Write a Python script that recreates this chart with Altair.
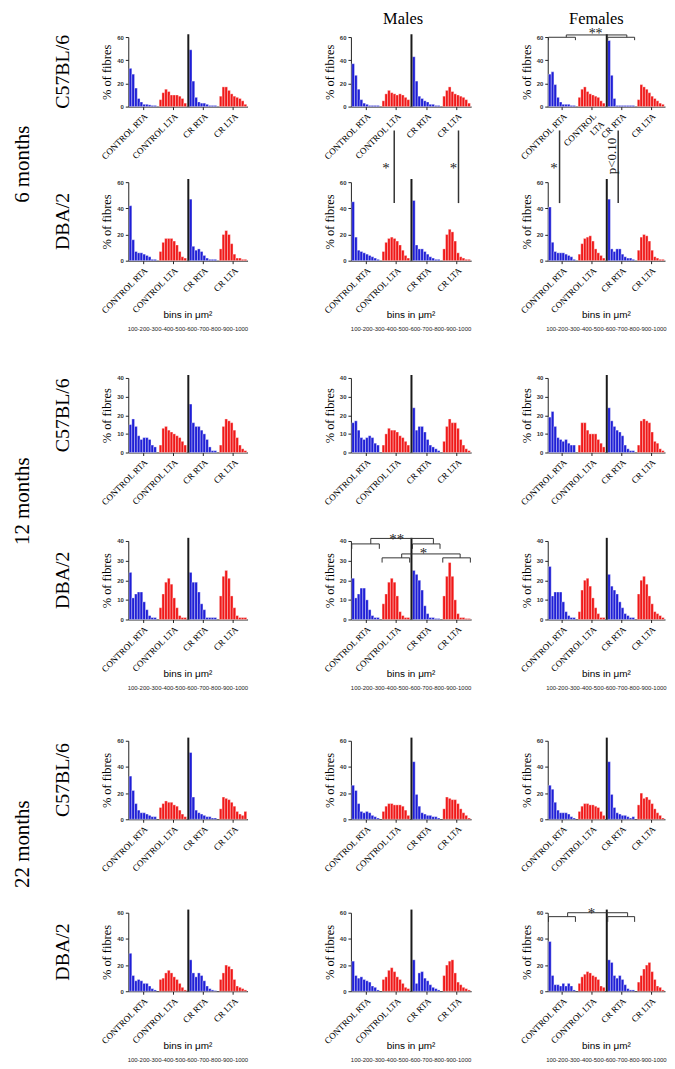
import altair as alt
import pandas as pd

# ---------------- text content ----------------
GROUPS = ["CONTROL RTA", "CONTROL LTA", "CR RTA", "CR LTA"]
SIDES = ["RTA", "LTA", "RTA", "LTA"]
BINS = [100, 200, 300, 400, 500, 600, 700, 800, 900, 1000]
BIN_RANGE = "100-200-300-400-500-600-700-800-900-1000"
BIN_TITLE = "bins in \u03bcm\u00b2"
COLUMN_TITLES = ["", "Males", "Females"]
AGES = ["6 months", "12 months", "22 months"]
STRAINS = ["C57BL/6", "DBA/2"]
Y_TITLE = "% of fibres"

# ---------------- data: % of fibres per bin (groups: CONTROL RTA, CONTROL LTA, CR RTA, CR LTA) -------------
m6_c57_all = [[33, 28, 16, 7, 4, 2, 2, 1.5, 1, 1], [6, 12, 15, 13, 10, 10, 10, 9, 7, 3],
              [49, 22, 8, 4, 3, 3, 2, 1, 1, 1], [9, 17, 17, 14, 11, 9, 8, 7, 5, 2]]
m6_c57_male = [[37, 27, 15, 6, 3, 2, 1, 1, 1, 1], [5, 11, 14, 12, 11, 10, 11, 10, 8, 6],
               [43, 22, 9, 7, 5, 4, 2, 2, 1, 1], [9, 14, 17, 13, 11, 10, 9, 8, 6, 3]]
m6_c57_female = [[28, 30, 19, 8, 4, 2, 2, 2, 1, 1], [8, 15, 17, 13, 11, 10, 9, 8, 5, 3],
                 [57, 27, 7, 1, 1, 1, 1, 1, 1, 1], [6, 19, 17, 15, 12, 9, 7, 5, 3, 2]]

m6_dba_all = [[42, 16, 7, 6, 6, 5, 4, 3, 1, 1], [7, 14, 17, 17, 17, 15, 12, 7, 3, 2],
              [47, 11, 8, 9, 7, 4, 2, 1, 1, 1], [9, 20, 23, 20, 13, 5, 2, 2, 1, 1]]
m6_dba_male = [[45, 18, 8, 7, 6, 5, 4, 3, 2, 1], [7, 14, 17, 18, 17, 15, 12, 8, 4, 2],
               [46, 12, 9, 9, 7, 5, 3, 2, 1, 1], [9, 20, 24, 22, 15, 6, 3, 2, 1, 1]]
m6_dba_female = [[41, 14, 7, 6, 6, 6, 5, 4, 3, 1], [5, 13, 17, 18, 19, 15, 9, 6, 4, 2],
                 [47, 9, 7, 9, 9, 5, 3, 2, 2, 1], [8, 18, 20, 19, 15, 8, 3, 2, 1, 1]]

m12_c57_all = [[15, 18, 14, 9, 7, 8, 8, 7, 4, 3], [4, 13, 14, 12, 11, 10, 9, 8, 6, 4],
               [26, 16, 14, 14, 12, 10, 7, 3, 1, 1], [4, 14, 18, 17, 16, 12, 8, 4, 2, 1]]
m12_c57_male = [[16, 17, 12, 8, 7, 8, 9, 8, 5, 4], [4, 10, 13, 12, 12, 11, 9, 8, 6, 4],
                [24, 12, 14, 14, 11, 7, 4, 3, 2, 1], [6, 14, 18, 16, 16, 13, 7, 4, 2, 1]]
m12_c57_female = [[19, 22, 14, 8, 7, 6, 7, 5, 4, 4], [4, 16, 16, 12, 10, 10, 10, 7, 5, 3],
                  [24, 17, 14, 12, 11, 9, 4, 2, 1, 1], [4, 17, 18, 17, 16, 11, 6, 5, 2, 1]]

m12_dba_all = [[24, 11, 13, 14, 14, 9, 5, 2, 1, 1], [6, 13, 19, 21, 18, 11, 6, 2, 1, 1],
               [24, 19, 19, 14, 8, 5, 1, 1, 1, 1], [12, 22, 25, 21, 12, 6, 2, 1, 1, 1]]
m12_dba_male = [[21, 11, 13, 16, 16, 10, 5, 2, 1, 1], [8, 13, 19, 21, 19, 12, 4, 2, 1, 1],
                [25, 23, 20, 15, 7, 3, 1, 1, 0.5, 0.5], [12, 22, 29, 22, 10, 3, 1, 1, 0.5, 0.5]]
m12_dba_female = [[27, 12, 14, 14, 14, 9, 4, 2, 1, 1], [4, 15, 20, 21, 17, 11, 6, 3, 1, 1],
                  [23, 17, 15, 13, 9, 6, 3, 2, 1, 1], [13, 20, 22, 18, 12, 8, 4, 3, 2, 1]]

m22_c57_all = [[33, 22, 12, 7, 5, 5, 4, 3, 2, 2], [9, 12, 14, 13, 13, 11, 10, 7, 4, 2],
               [51, 17, 7, 5, 4, 3, 2, 2, 1, 1], [8, 17, 16, 15, 13, 10, 6, 4, 3, 6]]
m22_c57_male = [[26, 22, 12, 6, 5, 6, 5, 3, 2, 1], [6, 10, 12, 12, 11, 11, 11, 10, 7, 3],
                [44, 19, 10, 5, 4, 3, 3, 2, 2, 1], [8, 17, 16, 15, 15, 12, 8, 5, 3, 1]]
m22_c57_female = [[26, 23, 13, 7, 5, 5, 5, 4, 2, 1], [6, 10, 12, 12, 11, 11, 10, 9, 6, 3],
                  [44, 19, 9, 5, 4, 3, 3, 2, 1, 2], [11, 20, 16, 17, 15, 12, 8, 5, 3, 1]]

m22_dba_all = [[29, 12, 8, 9, 8, 6, 6, 4, 2, 1], [9, 10, 14, 16, 14, 11, 9, 6, 3, 1],
               [24, 14, 11, 14, 12, 8, 4, 2, 1, 0.5], [9, 14, 20, 19, 17, 9, 4, 3, 2, 1]]
m22_dba_male = [[23, 12, 10, 11, 9, 8, 7, 4, 3, 1], [9, 11, 16, 18, 15, 11, 9, 6, 3, 2],
                [24, 6, 14, 15, 10, 8, 5, 3, 2, 1], [12, 20, 23, 24, 14, 7, 5, 3, 2, 1]]
m22_dba_female = [[38, 12, 5, 5, 4, 6, 4, 6, 4, 1], [6, 11, 13, 15, 14, 12, 11, 9, 4, 3],
                  [24, 22, 12, 10, 12, 9, 5, 2, 1, 1], [7, 12, 17, 20, 22, 15, 9, 4, 3, 1]]

PANELS = [
    [m6_c57_all, m6_c57_male, m6_c57_female],
    [m6_dba_all, m6_dba_male, m6_dba_female],
    [m12_c57_all, m12_c57_male, m12_c57_female],
    [m12_dba_all, m12_dba_male, m12_dba_female],
    [m22_c57_all, m22_c57_male, m22_c57_female],
    [m22_dba_all, m22_dba_male, m22_dba_female],
]
Y_MAX = [60, 60, 40, 40, 60, 60]

# ---------------- significance annotations (data units) ----------------
BRACKETS = {
    (0, 2): [dict(groups=(0, 2), joins=(6.1, 28.6), levels=(59.8, 57.3, 61.8), text="**",
                  at=(17.0, 62.4), size=14, dy=0)],
    (3, 1): [dict(groups=(0, 2), joins=(6.4, 29.1), levels=(38.5, 36, 41.3), text="**",
                  at=(15.8, 43), size=15, dy=4),
             dict(groups=(1, 3), joins=(17.6, 38.8), levels=(31.4, 29, 33.4), text="*",
                  at=(25.5, 36), size=15, dy=4)],
    (5, 2): [dict(groups=(0, 2), joins=(6.6, 28.9), levels=(57, 53, 60), text="*",
                  at=(15.5, 63), size=15, dy=4)],
}
SIG_LINES = {
    (1, 1): [dict(x=14.9, y=(44, 99.5), text="*", at=(11.9, 74), vertical=False),
             dict(x=38.2, y=(44, 99.5), text="*", at=(36.4, 74), vertical=False)],
    (1, 2): [dict(x=3.6, y=(44, 99.5), text="*", at=(1.5, 74), vertical=False),
             dict(x=25.4, y=(44, 99.5), text="p<0.10", at=(23.0, 80), vertical=True)],
}

# ---------------- style / layout ----------------
BLUE = "#1f1fd6"
RED = "#f01818"
SERIF = "Liberation Serif"
SANS = "Liberation Sans"
STRIDE = 11
SEP_X = 21.15
X_DOMAIN = [-0.8, 42.8]
ROW_H = [70, 79, 75, 79, 79, 79]
COL_W = [120, 121, 118]
COL_GAPS = [104, 77]
ROW_GAPS = [76, 118, 89, 122, 94]
MONTH_Y = [128, 124, 104]


def x_enc(field, expr):
    centers = [g * STRIDE + 4.5 for g in range(4)]
    return alt.X(field, type="quantitative",
                 scale=alt.Scale(domain=X_DOMAIN, nice=False, zero=False),
                 axis=alt.Axis(values=centers, labelExpr=expr, title=None, labelAngle=-45,
                               labelFont=SERIF, labelFontSize=9, labelColor="black",
                               labelOverlap=False, labelFlush=False, labelBound=False,
                               tickSize=3, tickColor="#222",
                               domainColor="#222", labelPadding=2, grid=False))


def y_enc(field, ymax):
    step = 20 if ymax == 60 else 10
    return alt.Y(field, type="quantitative",
                 scale=alt.Scale(domain=[0, ymax], nice=False),
                 axis=alt.Axis(values=list(range(0, ymax + 1, step)), title=Y_TITLE,
                               titleFont=SERIF, titleFontSize=12.5, titleFontWeight="normal",
                               titleColor="black", titlePadding=3, labelFont=SANS,
                               labelFontSize=6, labelFontWeight="bold", labelColor="#333",
                               tickSize=3, tickColor="#222", domainColor="#222", grid=False))


def label_expr(r, c):
    lta = "['CONTROL', 'LTA']" if (r, c) == (0, 2) else "'%s'" % GROUPS[1]
    return ("datum.value < 10 ? '%s' : datum.value < 20 ? %s : datum.value < 30 ? '%s' : '%s'"
            % (GROUPS[0], lta, GROUPS[2], GROUPS[3]))


def text_layer(txt, x, y, **kw):
    return alt.Chart(pd.DataFrame({"t": [txt]})).mark_text(**kw).encode(
        x=alt.value(x), y=alt.value(y), text="t:N")


def panel(r, c):
    vals = PANELS[r][c]
    ymax = Y_MAX[r]
    w, h = COL_W[c], ROW_H[r]
    expr = label_expr(r, c)
    rows = []
    for g, series in enumerate(vals):
        for b, v in enumerate(series):
            pos = g * STRIDE + b
            rows.append(dict(x=pos - 0.5, x2=pos + 0.5, v=v, base=0, side=SIDES[g],
                             grp=GROUPS[g], bin=BINS[b]))
    df = pd.DataFrame(rows)
    bars = alt.Chart(df).mark_bar(stroke="white", strokeWidth=0.5, strokeOpacity=0.7).encode(
        x=x_enc("x", expr), x2="x2:Q", y=y_enc("v", ymax), y2="base:Q",
        color=alt.Color("side:N", scale=alt.Scale(domain=["RTA", "LTA"], range=[BLUE, RED]), legend=None),
    )
    sdf = pd.DataFrame({"x": [SEP_X], "y": [0], "y2": [ymax * 1.04]})
    sep = alt.Chart(sdf).mark_rule(color="#1a1a1a", strokeWidth=2).encode(
        x=x_enc("x", expr), y=y_enc("y", ymax), y2="y2:Q")
    layers = [bars, sep]

    for spec in BRACKETS.get((r, c), []):
        segs = []
        yb, ytip, ytop = spec["levels"]
        for g in spec["groups"]:
            x0, x1 = g * STRIDE - 0.5, g * STRIDE + 9.5
            segs += [(x0, x1, yb, yb), (x0, x0, yb, ytip), (x1, x1, yb, ytip)]
        ja, jb = spec["joins"]
        segs += [(ja, ja, yb, ytop), (jb, jb, yb, ytop), (ja, jb, ytop, ytop)]
        bdf = pd.DataFrame(segs, columns=["x", "x2", "y", "y2"])
        layers.append(alt.Chart(bdf).mark_rule(color="#333", strokeWidth=1).encode(
            x=x_enc("x", expr), x2="x2:Q", y=y_enc("y", ymax), y2="y2:Q"))
        tdf = pd.DataFrame({"x": [spec["at"][0]], "y": [spec["at"][1]], "t": [spec["text"]]})
        layers.append(alt.Chart(tdf).mark_text(font=SERIF, fontSize=spec["size"], baseline="middle",
                                               dy=spec["dy"], color="#222").encode(
            x=x_enc("x", expr), y=y_enc("y", ymax), text="t:N"))

    for spec in SIG_LINES.get((r, c), []):
        ldf = pd.DataFrame({"x": [spec["x"]], "y": [spec["y"][0]], "y2": [spec["y"][1]]})
        layers.append(alt.Chart(ldf).mark_rule(color="#333", strokeWidth=1.5).encode(
            x=x_enc("x", expr), y=y_enc("y", ymax), y2="y2:Q"))
        tdf = pd.DataFrame({"x": [spec["at"][0]], "y": [spec["at"][1]], "t": [spec["text"]]})
        if spec["vertical"]:
            mk = alt.Chart(tdf).mark_text(font=SERIF, fontSize=13, angle=270, baseline="middle", color="#222")
        else:
            mk = alt.Chart(tdf).mark_text(font=SERIF, fontSize=15, baseline="middle", dy=4, color="#222")
        layers.append(mk.encode(x=x_enc("x", expr), y=y_enc("y", ymax), text="t:N"))

    if c == 0:
        layers.append(text_layer(STRAINS[r % 2], -66, h / 2, font=SERIF, fontSize=20, angle=270,
                                 baseline="middle", color="black"))
        if r % 2 == 0:
            layers.append(text_layer(AGES[r // 2], -106, MONTH_Y[r // 2], font=SERIF, fontSize=21,
                                     angle=270, baseline="middle", color="black"))
    if r == 0 and COLUMN_TITLES[c]:
        layers.append(text_layer(COLUMN_TITLES[c], w / 2 - (8 if c == 1 else 10), -18, font=SERIF,
                                 fontSize=16.5, baseline="middle", color="black"))
    if r % 2 == 1:
        layers.append(text_layer(BIN_TITLE, w / 2, h + 55, font=SANS, fontSize=10,
                                 baseline="middle", color="black"))
        layers.append(text_layer(BIN_RANGE, w / 2, h + 69, font=SANS, fontSize=6,
                                 baseline="middle", color="#222"))

    return alt.layer(*layers).properties(width=w, height=h)


def spacer(w, h):
    return alt.Chart(pd.DataFrame({"k": [0]})).mark_point(opacity=0).encode(
        x=alt.value(0), y=alt.value(0)).properties(width=w, height=h)


cells = []
for r in range(6):
    cells += [panel(r, 0), spacer(COL_GAPS[0], 1), panel(r, 1), spacer(COL_GAPS[1], 1), panel(r, 2)]
    if r < 5:
        g = ROW_GAPS[r]
        cells += [spacer(1, g) for _ in range(5)]

chart = alt.concat(*cells, columns=5, spacing=0, bounds="flush", align="each").properties(
    padding={"left": 4, "top": 0, "right": 0, "bottom": 0}
).configure(
    font=SANS, background="white", view=alt.ViewConfig(stroke="transparent", strokeWidth=0)
)

chart.save("out.html", embed_options={"renderer": "svg", "actions": False})
